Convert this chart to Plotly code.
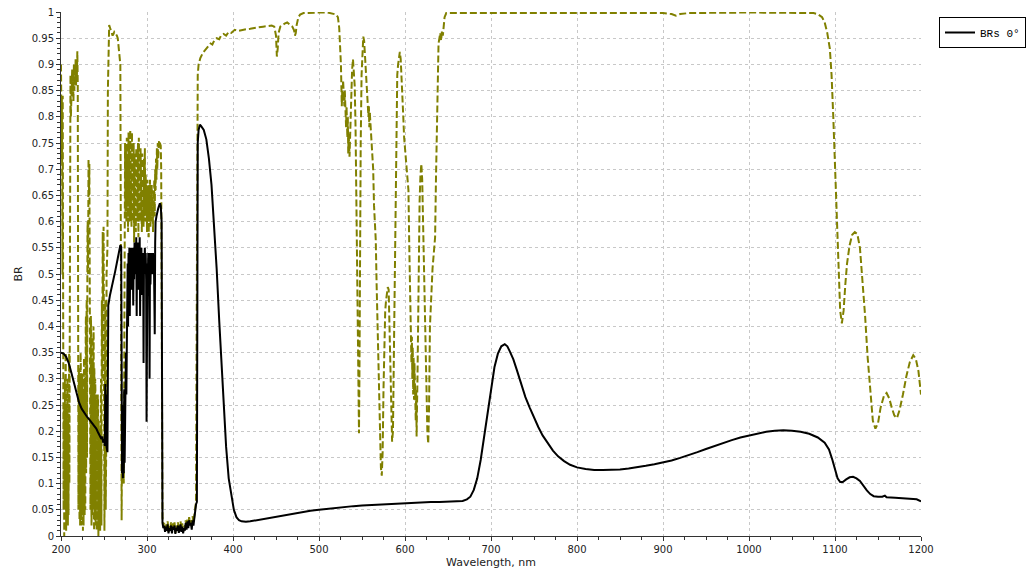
import plotly.graph_objects as go

# ---------------- data (wavelength nm, BR) ----------------
# Black solid series "BRs 0°"
black_uv = [
    (200, 0.35), (203, 0.348), (206, 0.342), (209, 0.33), (212, 0.312), (215, 0.292),
    (218, 0.272), (221, 0.255), (224, 0.243), (227, 0.235), (230, 0.228), (233, 0.222),
    (236, 0.215), (239, 0.21), (241, 0.205), (243, 0.198), (245, 0.192), (247, 0.185),
    (248, 0.19), (249, 0.178), (250, 0.185), (251, 0.172), (251.5, 0.29), (252, 0.2),
    (252.5, 0.27), (253, 0.17), (254, 0.16), (254.5, 0.38), (255, 0.44), (257, 0.46),
    (260, 0.48), (263, 0.505), (266, 0.53), (269, 0.555), (270, 0.552), (270.5, 0.3),
    (271, 0.12), (271.5, 0.2), (272, 0.11), (272.5, 0.25), (273, 0.12), (273.5, 0.28),
    (274, 0.14), (274.5, 0.3), (275, 0.2), (275.5, 0.35), (276, 0.27), (276.5, 0.45),
    (277, 0.38), (277.5, 0.52), (278, 0.4), (278.5, 0.54), (279, 0.46), (279.5, 0.55),
    (280, 0.42), (280.5, 0.53), (281, 0.48), (281.5, 0.55), (282, 0.47), (282.5, 0.54),
    (283, 0.5), (283.5, 0.55), (284, 0.44), (284.5, 0.53), (285, 0.49), (285.5, 0.56),
    (286, 0.5), (286.5, 0.54), (287, 0.5), (287.5, 0.57), (288, 0.42), (288.5, 0.55),
    (289, 0.51), (289.5, 0.56), (290, 0.47), (290.5, 0.55), (291, 0.5), (291.5, 0.57),
    (292, 0.42), (292.5, 0.54), (293, 0.52), (293.5, 0.55), (294, 0.46), (294.5, 0.53),
    (295, 0.5), (295.5, 0.54), (296, 0.33), (296.5, 0.53), (297, 0.51), (297.5, 0.55),
    (298, 0.5), (298.5, 0.54), (299, 0.49), (299.5, 0.218), (300, 0.5), (300.5, 0.52),
    (301, 0.5), (301.5, 0.54), (302, 0.52), (302.5, 0.53), (303, 0.3), (303.5, 0.54),
    (304, 0.48), (304.5, 0.52), (305, 0.5), (305.5, 0.54), (306, 0.53), (306.5, 0.5),
    (307, 0.54), (307.5, 0.52), (308, 0.53), (308.5, 0.45), (309, 0.385), (309.5, 0.56),
    (310, 0.6), (311, 0.61), (312, 0.62), (313, 0.625), (314, 0.63), (315, 0.635),
    (316, 0.63), (317, 0.6), (317.5, 0.3), (318, 0.025), (319, 0.015), (320, 0.02),
    (321, 0.008), (322, 0.018), (323, 0.01), (324, 0.022), (325, 0.005), (326, 0.015),
    (327, 0.01), (328, 0.02), (329, 0.005), (330, 0.018), (331, 0.012), (332, 0.02),
    (333, 0.004), (334, 0.016), (335, 0.01), (336, 0.02), (337, 0.006), (338, 0.014),
    (339, 0.022), (340, 0.008), (341, 0.018), (342, 0.005), (343, 0.015), (344, 0.01),
    (345, 0.025), (346, 0.012), (347, 0.028), (348, 0.015), (349, 0.03), (350, 0.02),
    (351, 0.025), (352, 0.012), (353, 0.03), (354, 0.02), (355, 0.035), (356, 0.05),
    (357, 0.06), (358, 0.065), (358.5, 0.4), (359, 0.75), (360, 0.775), (361.5, 0.785),
    (363, 0.782), (366, 0.775), (369, 0.757), (372, 0.72), (375, 0.67), (378, 0.6),
    (381, 0.51), (384, 0.41), (387, 0.32), (390, 0.23), (392, 0.17), (395, 0.11),
    (398, 0.075), (401, 0.05), (404, 0.036), (407, 0.03), (410, 0.028), (415, 0.027),
]
black_vis = [
    (420, 0.028), (430, 0.031), (440, 0.034), (450, 0.037), (460, 0.04), (470, 0.043),
    (480, 0.045), (490, 0.048), (500, 0.05), (510, 0.052), (520, 0.054), (530, 0.055),
    (540, 0.057), (550, 0.058), (560, 0.059), (570, 0.06), (580, 0.061), (590, 0.062),
    (600, 0.063), (610, 0.064), (620, 0.064), (630, 0.065), (640, 0.065), (650, 0.066),
    (660, 0.066), (667, 0.067), (672, 0.07), (676, 0.075), (680, 0.088), (684, 0.11),
    (688, 0.145), (692, 0.19), (696, 0.24), (700, 0.285), (704, 0.322), (708, 0.348),
    (712, 0.362), (716, 0.366), (719, 0.362), (722, 0.352), (726, 0.337), (730, 0.317),
    (735, 0.29), (740, 0.265), (745, 0.245), (750, 0.225), (755, 0.208), (760, 0.192),
    (766, 0.177), (772, 0.163), (778, 0.152), (785, 0.143), (792, 0.136), (800, 0.131),
]
black_nir = [
    (810, 0.128), (820, 0.126), (830, 0.126), (840, 0.126), (850, 0.127), (860, 0.129),
    (870, 0.131), (880, 0.134), (890, 0.137), (900, 0.14), (910, 0.144), (920, 0.149),
    (930, 0.154), (940, 0.16), (950, 0.166), (960, 0.172), (970, 0.178), (980, 0.183),
    (990, 0.188), (1000, 0.192), (1010, 0.196), (1020, 0.199), (1030, 0.201), (1040, 0.202),
    (1050, 0.201), (1060, 0.199), (1070, 0.195), (1080, 0.188), (1088, 0.178), (1093, 0.165),
    (1097, 0.145), (1100, 0.125), (1103, 0.11), (1106, 0.103), (1109, 0.103), (1113, 0.108),
    (1117, 0.112), (1121, 0.113), (1125, 0.11), (1129, 0.105), (1133, 0.095), (1137, 0.087),
    (1141, 0.08), (1145, 0.076), (1150, 0.075), (1155, 0.075), (1158, 0.077), (1160, 0.074),
    (1170, 0.073), (1180, 0.072), (1190, 0.071), (1195, 0.07), (1200, 0.066),
]

# Olive dashed series
olive_uv = [
    (200, 0.9), (200.25, 0.75), (200.5, 0.88), (200.75, 0.72), (201, 0.84), (201.25, 0.76),
    (201.5, 0.84), (201.75, 0.5), (202, 0.84), (202.25, 0.6), (202.5, 0.3), (202.75, 0.1),
    (203, 0.05), (203.25, 0.25), (203.5, 0.2), (203.75, 0.0), (204, 0.02), (204.25, 0.28),
    (204.5, 0.3), (204.75, 0.05), (205, 0.1), (205.25, 0.33), (205.5, 0.35), (205.75, 0.03),
    (206, 0.01), (206.25, 0.2), (206.5, 0.25), (206.75, 0.02), (207, 0.05), (207.25, 0.28),
    (207.5, 0.3), (207.75, 0.06), (208, 0.02), (208.25, 0.22), (208.5, 0.2), (208.75, 0.04),
    (209, 0.15), (209.25, 0.3), (209.5, 0.35), (209.75, 0.1), (210, 0.3), (210.5, 0.85),
    (211, 0.88), (211.5, 0.8), (212, 0.86), (212.5, 0.82), (213, 0.89), (213.5, 0.84),
    (214, 0.87), (214.5, 0.83), (215, 0.9), (215.5, 0.85), (216, 0.88), (216.5, 0.86),
    (217, 0.91), (217.5, 0.86), (218, 0.9), (218.5, 0.88), (219, 0.925), (219.5, 0.86),
    (220, 0.35), (220.25, 0.05), (220.5, 0.15), (220.75, 0.32), (221, 0.3), (221.25, 0.08),
    (221.5, 0.03), (221.75, 0.3), (222, 0.25), (222.25, 0.02), (222.5, 0.1), (222.75, 0.35),
    (223, 0.33), (223.25, 0.1), (223.5, 0.02), (223.75, 0.28), (224, 0.3), (224.25, 0.04),
    (224.5, 0.08), (224.75, 0.31), (225, 0.28), (225.25, 0.06), (225.5, 0.01), (225.75, 0.27),
    (226, 0.25), (226.25, 0.02), (226.5, 0.1), (226.75, 0.34), (227, 0.32), (227.25, 0.07),
    (227.5, 0.04), (227.75, 0.3), (228, 0.3), (228.25, 0.05), (228.5, 0.15), (228.75, 0.4),
    (229, 0.42), (229.25, 0.12), (229.5, 0.2), (229.75, 0.44), (230, 0.45), (230.25, 0.15),
    (230.5, 0.3), (230.75, 0.58), (231, 0.6), (231.5, 0.5), (232, 0.72), (232.5, 0.65),
    (233, 0.71), (233.5, 0.45), (234, 0.35), (234.25, 0.05), (234.5, 0.1), (234.75, 0.42),
    (235, 0.4), (235.25, 0.08), (235.5, 0.02), (235.75, 0.33), (236, 0.3), (236.25, 0.04),
    (236.5, 0.05), (236.75, 0.38), (237, 0.35), (237.25, 0.06), (237.5, 0.1), (237.75, 0.4),
    (238, 0.38), (238.25, 0.05), (238.5, 0.01), (238.75, 0.32), (239, 0.3), (239.25, 0.03),
    (239.5, 0.12), (239.75, 0.3), (240, 0.28), (240.25, 0.02), (240.5, 0.05), (240.75, 0.27),
    (241, 0.25), (241.25, 0.06), (241.5, 0.01), (241.75, 0.24), (242, 0.22), (242.25, 0.02),
    (242.5, 0.08), (242.75, 0.27), (243, 0.26), (243.25, 0.05), (243.5, 0.0), (243.75, 0.22),
    (244, 0.2), (244.25, 0.02), (244.5, 0.05), (244.75, 0.2), (245, 0.18), (245.25, 0.03),
    (245.5, 0.01), (245.75, 0.18), (246, 0.15), (246.5, 0.3), (247, 0.02), (247.5, 0.45),
    (248, 0.3), (248.5, 0.58), (249, 0.45), (249.5, 0.59), (250, 0.35), (250.5, 0.01),
    (251, 0.2), (251.5, 0.45), (252, 0.05), (252.5, 0.15), (253, 0.5), (254, 0.55),
    (254.5, 0.85), (255, 0.93), (256, 0.975), (257, 0.97), (258, 0.965), (259, 0.96),
    (260, 0.955), (261, 0.958), (262, 0.962), (263, 0.96), (264, 0.958), (265, 0.955),
    (266, 0.95), (267, 0.93), (268, 0.91), (269, 0.9), (269.5, 0.6), (270, 0.25),
    (270.5, 0.03), (271, 0.2), (271.5, 0.1), (272, 0.25), (272.5, 0.12), (273, 0.1),
    (273.5, 0.3), (274, 0.6), (274.5, 0.75), (275, 0.62), (275.5, 0.74), (276, 0.6),
    (276.5, 0.76), (277, 0.63), (277.5, 0.72), (278, 0.58), (278.5, 0.77), (279, 0.64),
    (279.5, 0.75), (280, 0.6), (280.5, 0.775), (281, 0.66), (281.5, 0.74), (282, 0.59),
    (282.5, 0.77), (283, 0.65), (283.5, 0.72), (284, 0.6), (284.5, 0.75), (285, 0.56),
    (285.5, 0.73), (286, 0.62), (286.5, 0.7), (287, 0.58), (287.5, 0.74), (288, 0.63),
    (288.5, 0.71), (289, 0.6), (289.5, 0.75), (290, 0.57), (290.5, 0.76), (291, 0.64),
    (291.5, 0.72), (292, 0.6), (292.5, 0.74), (293, 0.62), (293.5, 0.7), (294, 0.58),
    (294.5, 0.73), (295, 0.63), (295.5, 0.68), (296, 0.59), (296.5, 0.72), (297, 0.61),
    (297.5, 0.74), (298, 0.6), (298.5, 0.69), (299, 0.62), (299.5, 0.67), (300, 0.58),
    (300.5, 0.68), (301, 0.6), (301.5, 0.66), (302, 0.57), (302.5, 0.67), (303, 0.61),
    (303.5, 0.68), (304, 0.59), (304.5, 0.65), (305, 0.62), (305.5, 0.67), (306, 0.6),
    (306.5, 0.66), (307, 0.58), (307.5, 0.64), (308, 0.62), (308.5, 0.68), (309, 0.61),
    (309.5, 0.7), (310, 0.66), (310.5, 0.72), (311, 0.68), (311.5, 0.74), (312, 0.7),
    (312.5, 0.75), (313, 0.72), (314, 0.755), (315, 0.75), (316, 0.745), (316.5, 0.7),
    (317, 0.5), (317.5, 0.2), (318, 0.035), (319, 0.02), (320, 0.025), (321, 0.012),
    (322, 0.024), (323, 0.015), (324, 0.028), (325, 0.008), (326, 0.02), (327, 0.015),
    (328, 0.026), (329, 0.008), (330, 0.024), (331, 0.016), (332, 0.026), (333, 0.006),
    (334, 0.02), (335, 0.014), (336, 0.026), (337, 0.009), (338, 0.018), (339, 0.028),
    (340, 0.012), (341, 0.024), (342, 0.008), (343, 0.02), (344, 0.014), (345, 0.03),
    (346, 0.016), (347, 0.034), (348, 0.02), (349, 0.036), (350, 0.026), (351, 0.03),
    (352, 0.016), (353, 0.038), (354, 0.025), (355, 0.04), (356, 0.055), (357, 0.065),
    (357.5, 0.3), (358, 0.75), (358.5, 0.85), (359, 0.88), (360, 0.9), (362, 0.912),
    (365, 0.922), (368, 0.928), (371, 0.933), (374, 0.94), (376, 0.938), (378, 0.945),
    (381, 0.95), (384, 0.948), (386, 0.955), (389, 0.958), (392, 0.955), (395, 0.962),
    (398, 0.96), (402, 0.966), (406, 0.964), (410, 0.966), (415, 0.967), (420, 0.968),
    (425, 0.97), (430, 0.971), (435, 0.972), (440, 0.973), (445, 0.974), (448, 0.972),
    (450, 0.955), (451, 0.915), (452, 0.93), (453, 0.96), (455, 0.972), (458, 0.975),
    (460, 0.978), (463, 0.98), (466, 0.975), (469, 0.972), (471, 0.965), (472, 0.955),
    (473, 0.96), (474, 0.975), (476, 0.99), (478, 0.995), (482, 0.998), (490, 0.999),
    (500, 0.999), (510, 0.999), (515, 0.998), (518, 0.996),
]
olive_vis = [
    (520, 0.995), (522, 0.99), (523.5, 0.97), (524.5, 0.94), (525.5, 0.9), (526, 0.86),
    (526.5, 0.82), (527, 0.85), (527.5, 0.83), (528, 0.87), (528.5, 0.84), (529, 0.86),
    (529.5, 0.82), (530, 0.85), (530.5, 0.8), (531, 0.83), (531.5, 0.78), (532, 0.82),
    (533, 0.76), (533.5, 0.8), (534, 0.73), (534.5, 0.77), (535.5, 0.724), (536.5, 0.8),
    (537.5, 0.87), (538.5, 0.89), (539.5, 0.91), (540.5, 0.88), (541.5, 0.86), (542.5, 0.78),
    (543.5, 0.6), (544.5, 0.4), (545.5, 0.25), (546.5, 0.196), (547, 0.3), (547.5, 0.5),
    (548.5, 0.75), (549.5, 0.88), (550.5, 0.93), (551.5, 0.953), (552.5, 0.945), (553.5, 0.92),
    (554.5, 0.89), (555.5, 0.86), (556.5, 0.83), (557.5, 0.8), (558, 0.82), (558.5, 0.78),
    (559, 0.81), (560, 0.78), (561, 0.76), (562, 0.745), (563, 0.7), (564, 0.63),
    (565, 0.59), (566, 0.565), (567, 0.48), (568, 0.4), (569, 0.32), (570, 0.24),
    (571, 0.17), (572, 0.13), (573, 0.115), (574, 0.16), (575, 0.28), (576, 0.4),
    (577, 0.43), (578, 0.45), (579, 0.46), (580, 0.475), (581, 0.47), (582, 0.4),
    (583, 0.3), (584, 0.22), (585, 0.18), (586, 0.2), (587, 0.35), (588, 0.55),
    (589, 0.7), (590, 0.85), (591, 0.88), (592, 0.9), (593, 0.915), (594, 0.924),
    (595, 0.91), (596, 0.88), (597, 0.855), (598, 0.8), (599, 0.76), (600, 0.74),
    (601, 0.72), (602, 0.7), (603, 0.69), (604, 0.66), (605, 0.55), (606, 0.45),
    (607, 0.4), (607.5, 0.33), (608, 0.38), (608.5, 0.3), (609, 0.36), (609.5, 0.27),
    (610, 0.34), (610.5, 0.26), (611, 0.33), (611.5, 0.25), (612, 0.3), (612.5, 0.22),
    (613, 0.28), (613.5, 0.19), (614, 0.25), (614.5, 0.3), (615, 0.4), (616, 0.55),
    (617, 0.64), (618, 0.69), (619, 0.71), (620, 0.68), (621, 0.6), (622, 0.5),
    (623, 0.42), (624, 0.3), (625, 0.24), (626, 0.2), (627, 0.176), (628, 0.25),
    (629, 0.4), (630, 0.45), (631, 0.48), (632, 0.51), (633, 0.53), (634, 0.55),
    (635, 0.57), (636, 0.68), (637, 0.78), (638, 0.88), (639, 0.94), (640, 0.95),
    (641, 0.96), (642, 0.945), (643, 0.965), (644, 0.955), (645, 0.98), (646, 0.99),
    (648, 0.998), (650, 0.998),
]
olive_nir = [
    (700, 0.998), (750, 0.998), (800, 0.998), (850, 0.998), (900, 0.998), (910, 0.996),
    (915, 0.993), (920, 0.996), (930, 0.998), (1000, 0.999), (1050, 0.999), (1075, 0.998),
    (1080, 0.996), (1085, 0.99), (1088, 0.98), (1091, 0.96), (1094, 0.93), (1096, 0.88),
    (1098, 0.8), (1100, 0.7), (1102, 0.6), (1104, 0.5), (1106, 0.43), (1108, 0.406),
    (1110, 0.43), (1112, 0.48), (1114, 0.52), (1117, 0.555), (1120, 0.575), (1123, 0.58),
    (1126, 0.576), (1129, 0.55), (1132, 0.49), (1135, 0.42), (1138, 0.34), (1141, 0.27),
    (1144, 0.22), (1147, 0.205), (1150, 0.215), (1153, 0.245), (1157, 0.268), (1160, 0.273),
    (1163, 0.263), (1166, 0.245), (1169, 0.23), (1172, 0.225), (1175, 0.24), (1179, 0.27),
    (1183, 0.305), (1187, 0.332), (1191, 0.345), (1194, 0.338), (1197, 0.315), (1200, 0.27),
]

x_ticks = list(range(200, 1201, 100))
black_name = "BRs 0°"

black = black_uv + black_vis + black_nir
olive = olive_uv + olive_vis + olive_nir
black_nm = [p[0] for p in black]
black_br = [p[1] for p in black]
olive_nm = [p[0] for p in olive]
olive_br = [p[1] for p in olive]

fig = go.Figure()
fig.add_trace(go.Scatter(
    x=olive_nm, y=olive_br, mode="lines", showlegend=False,
    line=dict(color="#808000", width=2, dash="7px,3px"),
))
fig.add_trace(go.Scatter(
    x=black_nm, y=black_br, mode="lines", name=black_name,
    line=dict(color="black", width=2),
))

fig.update_layout(
    width=1028, height=577,
    margin=dict(l=61, r=0, t=12, b=41, autoexpand=False),
    plot_bgcolor="white", paper_bgcolor="white",
    font=dict(family="DejaVu Sans", size=10, color="#222"),
    showlegend=True,
    legend=dict(
        x=(939 - 61) / 967, y=(536 - 17) / 524, xanchor="left", yanchor="top",
        bordercolor="black", borderwidth=1, bgcolor="white",
        font=dict(family="Liberation Mono", size=11, color="black"),
        itemwidth=30, tracegroupgap=0,
    ),
)
fig.update_xaxes(
    domain=[0, 860 / 967],
    range=[200, 1200], tickvals=x_ticks, ticktext=[str(v) for v in x_ticks],
    showgrid=True, gridcolor="#c8c8c8", griddash="3px,3px", gridwidth=1,
    showline=True, linecolor="#333", linewidth=1, zeroline=False,
    ticks="outside", ticklen=4, tickcolor="#333",
    minor=dict(dtick=25, tick0=200, ticks="outside", ticklen=3, tickcolor="#333", showgrid=False),
    title=dict(text="Wavelength, nm", standoff=4, font=dict(size=11)),
)
fig.update_yaxes(
    range=[0, 1], dtick=0.05, tick0=0,
    showgrid=True, gridcolor="#c8c8c8", griddash="3px,3px", gridwidth=1,
    showline=True, linecolor="#333", linewidth=1, zeroline=False,
    ticks="outside", ticklen=4, tickcolor="#333",
    minor=dict(dtick=0.01, tick0=0, ticks="outside", ticklen=3, tickcolor="#333", showgrid=False),
    title=dict(text="BR", standoff=6, font=dict(size=11)),
)

fig.write_html("out.html")
